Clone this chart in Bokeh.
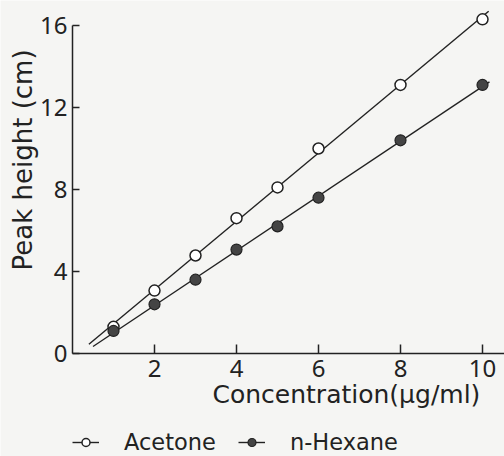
import math
import numpy as np
from bokeh.plotting import figure
from bokeh.models import (Range1d, FixedTicker, Legend, LegendItem, Label,
                          LinearAxis)
from bokeh.embed import file_html
from bokeh.resources import INLINE

# ---- data ----
conc = [1, 2, 3, 4, 5, 6, 8, 10]
acetone = [1.3, 3.07, 4.78, 6.6, 8.1, 10.0, 13.1, 16.3]
hexane = [1.1, 2.4, 3.6, 5.07, 6.2, 7.6, 10.4, 13.1]
acetone_line_x = [0.4, 10.15]
hexane_line_x = [0.5, 10.17]
x_ticks = [2, 4, 6, 8, 10]
y_ticks = [0, 4, 8, 12, 16]
x_label = "Concentration(μg/ml)"
y_label = "Peak height (cm)"
series_names = ["Acetone", "n-Hexane"]

TICK_FONT = "Noto Sans"
LABEL_FONT = "DejaVu Sans"
INK = "#222222"
PAPER = "#f5f5f3"

a_fit = np.polyfit(conc, acetone, 1)
h_fit = np.polyfit(conc, hexane, 1)
acetone_line_y = list(np.polyval(a_fit, acetone_line_x))
hexane_line_y = list(np.polyval(h_fit, hexane_line_x))

# frame fills the whole canvas; axes are pinned at 0 so nothing is clipped
p = figure(width=504, height=456, output_backend="svg", toolbar_location=None,
           x_range=Range1d(-72 / 41, 432 / 41), y_range=Range1d(-103 / 20.5, 353 / 20.5),
           x_axis_location=None, y_axis_location=None,
           min_border=0)
p.background_fill_color = PAPER
p.border_fill_color = PAPER
p.outline_line_color = None
p.grid.visible = False

xaxis = LinearAxis(fixed_location=0, ticker=FixedTicker(ticks=x_ticks),
                   bounds=(0, 432 / 41))
yaxis = LinearAxis(fixed_location=0, ticker=FixedTicker(ticks=y_ticks),
                   bounds=(0, 16))
for ax in (xaxis, yaxis):
    ax.axis_line_color = INK
    ax.axis_line_width = 1.5
    ax.major_tick_line_color = INK
    ax.major_tick_line_width = 1.5
    ax.major_tick_out = 0
    ax.minor_tick_line_color = None
    ax.major_label_text_font = TICK_FONT
    ax.major_label_text_font_size = "24px"
    ax.major_label_text_color = INK
xaxis.major_tick_in = 9
yaxis.major_tick_in = 7
xaxis.major_label_standoff = 6
yaxis.major_label_standoff = 5
p.add_layout(xaxis, "below")
p.add_layout(yaxis, "left")

la = p.line(acetone_line_x, acetone_line_y, line_color=INK, line_width=1.4)
lh = p.line(hexane_line_x, hexane_line_y, line_color=INK, line_width=1.4)
sa = p.scatter(conc, acetone, size=11, fill_color="white", line_color=INK, line_width=1.5)
sh = p.scatter(conc, hexane, size=11, fill_color="#444444", line_color=INK, line_width=1.2)

p.add_layout(Label(x=212, y=62, x_units="screen", y_units="screen", text=x_label,
                   text_font=LABEL_FONT, text_font_size="25px", text_color=INK,
                   text_align="left", text_baseline="middle"))
p.add_layout(Label(x=22, y=186, x_units="screen", y_units="screen", text=y_label,
                   angle=math.pi / 2, text_font=LABEL_FONT, text_font_size="26px",
                   text_color=INK, text_align="left", text_baseline="middle"))

legend = Legend(items=[LegendItem(label=series_names[0], renderers=[la, sa]),
                       LegendItem(label=series_names[1], renderers=[lh, sh])],
                orientation="horizontal", location=(72, 1),
                label_text_font=LABEL_FONT, label_text_font_size="22.5px",
                label_text_color=INK, glyph_width=27, glyph_height=20,
                label_height=20, label_standoff=25,
                spacing=22, padding=0, margin=0, border_line_color=None,
                background_fill_alpha=0)
p.add_layout(legend, "center")

open("out.html", "w").write(file_html(p, INLINE))
